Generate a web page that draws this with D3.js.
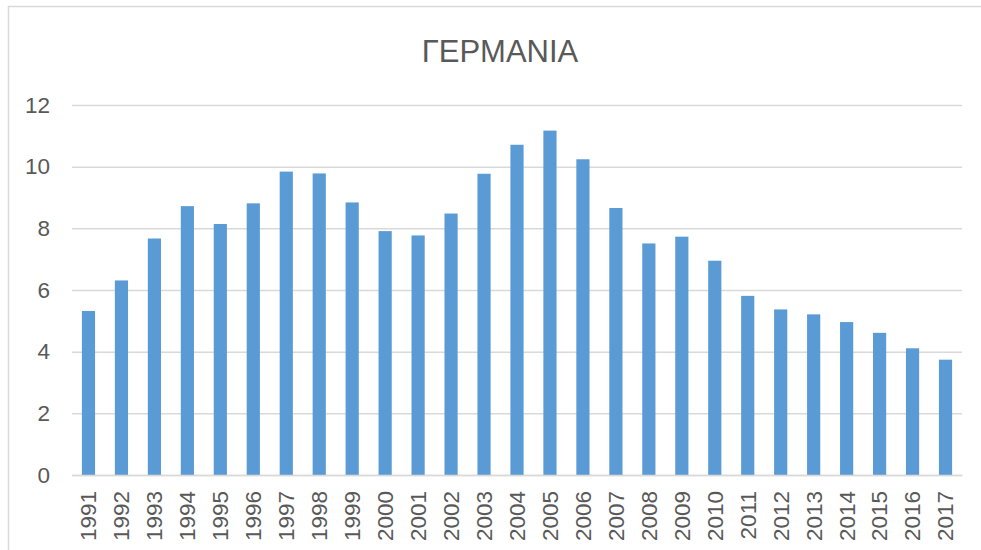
<!DOCTYPE html>
<html>
<head>
<meta charset="utf-8">
<script src="https://cdn.jsdelivr.net/npm/d3@7"></script>
<style>
    body { margin: 0; background: #fff; }
    svg { display: block; }
</style>
</head>
<body>
<div id="chart"></div>
<script>
// chart data
var years = ["1991", "1992", "1993", "1994", "1995", "1996", "1997", "1998", "1999",
             "2000", "2001", "2002", "2003", "2004", "2005", "2006", "2007", "2008",
             "2009", "2010", "2011", "2012", "2013", "2014", "2015", "2016", "2017"];
var values = [5.32, 6.31, 7.67, 8.72, 8.14, 8.81, 9.84, 9.78, 8.84,
              7.91, 7.77, 8.48, 9.77, 10.71, 11.17, 10.24, 8.66, 7.51,
              7.73, 6.95, 5.81, 5.37, 5.21, 4.96, 4.61, 4.11, 3.74];
var yTicks = [0, 2, 4, 6, 8, 10, 12];
var title = "ΓΕΡΜΑΝΙΑ";

var width = 981, height = 550;
var margin = {top: 105, right: 19, bottom: 75, left: 72};
var innerW = width - margin.left - margin.right;
var innerH = height - margin.top - margin.bottom;
var fontFamily = "'Liberation Sans', Arial, sans-serif";

var svg = d3.select("#chart").append("svg")
    .attr("width", width)
    .attr("height", height);

// light frame of the chart area (runs past the right and bottom edges)
svg.append("rect")
    .attr("x", 8.5)
    .attr("y", 6.5)
    .attr("width", 990)
    .attr("height", 600)
    .attr("fill", "none")
    .attr("stroke", "#d9d9d9")
    .attr("stroke-width", 1.5);

svg.append("text")
    .attr("x", 500)
    .attr("y", 62)
    .attr("text-anchor", "middle")
    .attr("font-family", fontFamily)
    .attr("font-size", 31)
    .attr("fill", "#595959")
    .text(title);

var g = svg.append("g")
    .attr("transform", "translate(" + margin.left + "," + margin.top + ")");

var x = d3.scaleBand()
    .domain(years)
    .range([0, innerW])
    .paddingInner(0.6)
    .paddingOuter(0.3);

var y = d3.scaleLinear()
    .domain([0, 12])
    .range([innerH, 0]);

// gridlines + y labels
var yAxis = g.append("g")
    .call(d3.axisLeft(y).tickValues(yTicks).tickSize(-innerW).tickPadding(22).tickFormat(d3.format("d")));
yAxis.select(".domain").remove();
yAxis.selectAll(".tick line")
    .attr("stroke", "#d9d9d9")
    .attr("stroke-width", 1.5);
yAxis.selectAll(".tick text")
    .attr("font-family", fontFamily)
    .attr("font-size", 22.5)
    .attr("fill", "#595959");

// bars
g.append("g")
    .selectAll("rect")
    .data(values)
    .enter().append("rect")
    .attr("x", function(d, i) { return x(years[i]); })
    .attr("y", function(d) { return y(d); })
    .attr("width", x.bandwidth())
    .attr("height", function(d) { return innerH - y(d); })
    .attr("fill", "#5b9bd5");

// x axis with rotated year labels
var xAxis = g.append("g")
    .attr("transform", "translate(0," + innerH + ")")
    .call(d3.axisBottom(x).tickSize(0).tickPadding(0));
xAxis.select(".domain")
    .attr("stroke", "#d9d9d9")
    .attr("stroke-width", 1.5);
xAxis.selectAll(".tick text")
    .attr("transform", "translate(0,16) rotate(-90)")
    .attr("y", 0)
    .attr("dy", "0.35em")
    .attr("text-anchor", "end")
    .attr("font-family", fontFamily)
    .attr("font-size", 22.5)
    .attr("fill", "#595959");
</script>
</body>
</html>
